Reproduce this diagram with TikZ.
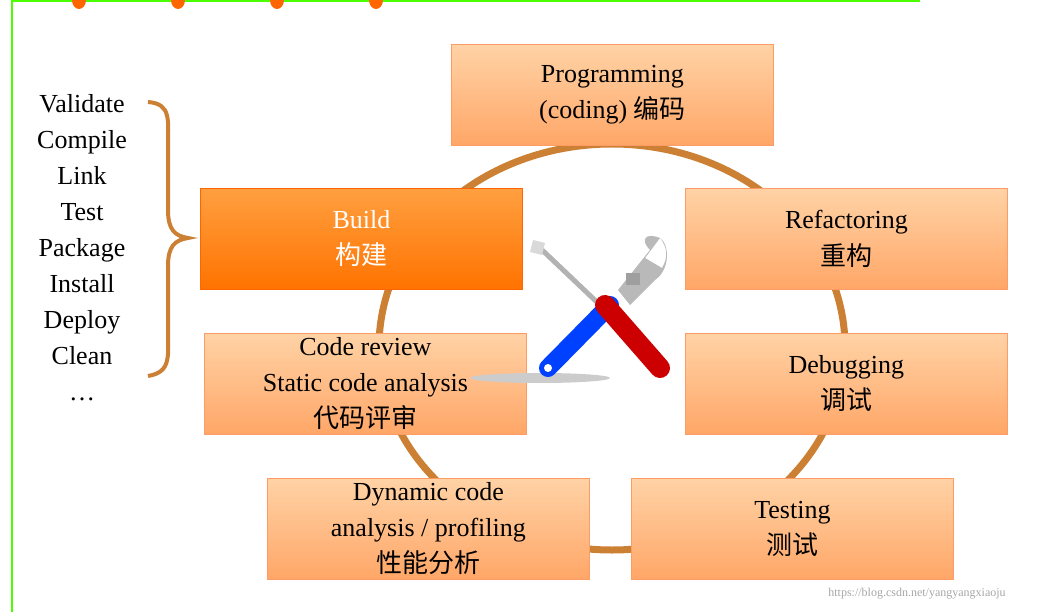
\documentclass[tikz,border=0pt]{standalone}
\usepackage{fontspec}
\setmainfont{Liberation Serif}
\newfontfamily\cjk{Noto Sans CJK SC}
\begin{document}
\begin{tikzpicture}[x=1pt,y=-1pt,
  lbox/.style={draw=orange!70!red!60,line width=0.8pt,top color=orange!35!white,bottom color=orange!55!white!90!red,minimum width=322pt,minimum height=101pt,anchor=north west,align=center,font=\fontsize{26}{36}\selectfont,inner sep=2pt},
  dbox/.style={lbox,top color=orange!75!white,bottom color=orange!90!red,text=white,draw=orange!80!red},
  ring/.style={draw=brown!80!orange,line width=7pt}]
\useasboundingbox (0,0) rectangle (1057,612);
\draw[green!60!lime,line width=1.5pt] (12,612) -- (12,1) -- (920,1);
\foreach \x [count=\i] in {79,178,277,376}{\fill[orange!80!red] (\x,0) ellipse (7pt and 9pt);}
\draw[ring] (612,347) ellipse (233pt and 203pt);
\node[lbox] (prog) at (451,44) {Programming\\(coding) {\cjk 编码}};
\node[dbox] (build) at (200,188) {Build\\{\cjk 构建}};
\node[lbox] (ref) at (685,188) {Refactoring\\{\cjk 重构}};
\node[lbox] (cr) at (204,333) {Code review\\Static code analysis\\{\cjk 代码评审}};
\node[lbox] (dbg) at (685,333) {Debugging\\{\cjk 调试}};
\node[lbox] (dyn) at (267,478) {Dynamic code\\analysis / profiling\\{\cjk 性能分析}};
\node[lbox] (test) at (631,478) {Testing\\{\cjk 测试}};
\node[align=center,font=\fontsize{26}{36}\selectfont] (steps) at (82,248) {Validate\\Compile\\Link\\Test\\Package\\Install\\Deploy\\Clean\\\ldots};
\draw[brown!80!orange,line width=4pt] (148,102) .. controls (172,104) and (168,120) .. (168,150) -- (168,210) .. controls (168,230) and (175,236) .. (188,238)
  .. controls (175,240) and (168,246) .. (168,266) -- (168,326) .. controls (168,356) and (172,372) .. (148,376);
% tools icon
\fill[gray!40] (540,378) ellipse (70pt and 5pt);
\draw[gray!60,line width=5pt,line cap=round] (540,248) -- (600,305);
\fill[gray!30] (533,240) -- (545,243) -- (542,255) -- (530,252) -- cycle;
\draw[blue!75!cyan,line width=18pt,line cap=round] (548,368) -- (610,305);
\fill[white] (548,368) circle (4pt);
\fill[gray!55] (618,290) -- (650,250) .. controls (640,240) and (645,232) .. (660,238) -- (645,258) -- (662,268) .. controls (668,258) and (668,248) .. (660,238) .. controls (670,245) and (670,270) .. (655,280) -- (630,305) -- cycle;
\fill[gray!75] (626,273) rectangle (640,285);
\draw[red!80!black,line width=20pt,line cap=round] (605,305) -- (660,368);
\node[font=\fontsize{12}{14}\selectfont,text=gray!70] (wm) at (917,594) {https://blog.csdn.net/yangyangxiaoju};
\end{tikzpicture}
\end{document}
